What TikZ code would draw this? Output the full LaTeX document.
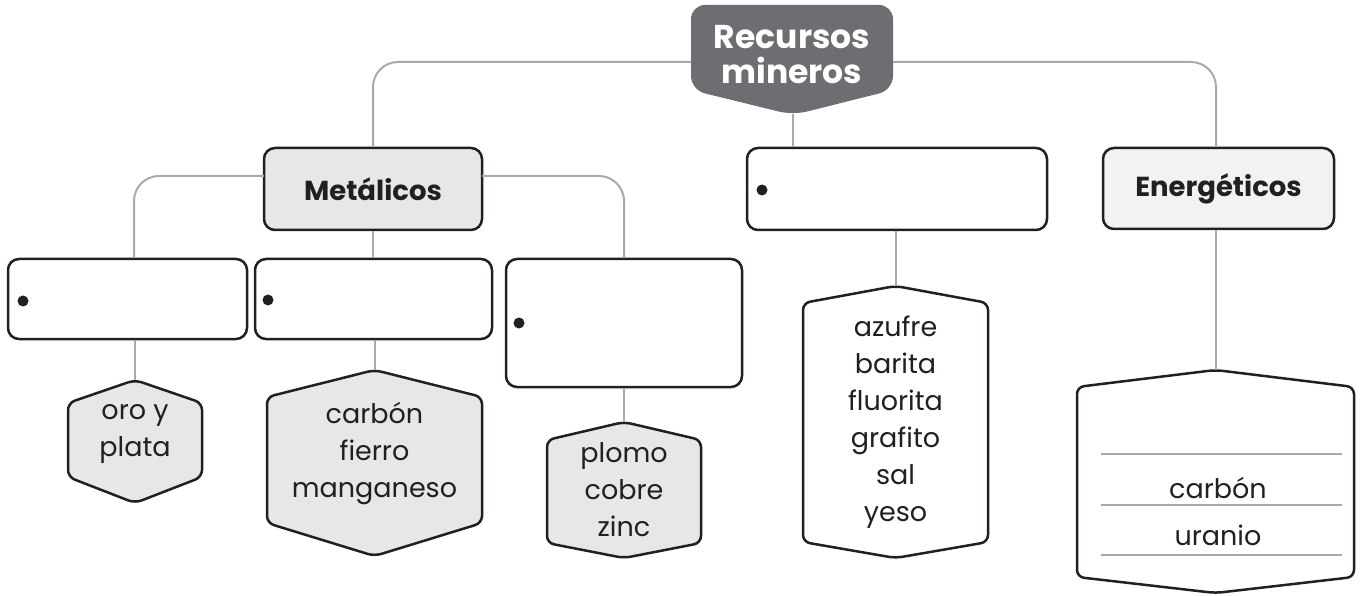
\documentclass[tikz,border=0pt]{standalone}
\usepackage{fontspec}
\setmainfont{Poppins}
\definecolor{ink}{HTML}{231F20}
\definecolor{conngray}{HTML}{A7A9AC}
\definecolor{topfill}{HTML}{6D6E71}
\definecolor{lightfill}{HTML}{E6E7E8}
\definecolor{lighterfill}{HTML}{F1F2F2}
\tikzset{
  boxnode/.style={draw=ink, line width=2.5pt, rounded corners=11pt, rectangle, inner sep=0pt, fill=white},
  headtext/.style={font=\bfseries\fontsize{27.5}{34}\selectfont, text=ink},
  itemtext/.style={font=\fontsize{27}{37}\selectfont, text=ink, align=center, inner sep=0pt},
  conn/.style={draw=conngray, line width=2pt, rounded corners=25pt},
  hexstyle/.style={draw=ink, line width=2.5pt, rounded corners=7pt},
  bulletdot/.style={fill=ink},
  rowline/.style={draw=conngray, line width=2pt}
}
\newcommand\hexshape[8]{%
  \path[hexstyle, fill=#8] (#2,#4) -- (#2+#3,#5) -- (#2+#3,#6) -- (#2,#7) -- (#2-#3,#6) -- (#2-#3,#5) -- cycle;
  \coordinate (#1) at (#2,#4);}
\begin{document}
\begin{tikzpicture}[x=1pt,y=-1pt]
\useasboundingbox (0,0) rectangle (1361,596);
% top node
\fill[topfill, rounded corners=14pt] (793,115) -- (691,90) -- (691,5) -- (893,5) -- (893,90) -- cycle;
\node[font=\bfseries\fontsize{33}{35}\selectfont, text=white, align=center] (rec) at (792,55) {Recursos\\mineros};
\coordinate (recL) at (691,62);
\coordinate (recR) at (893,62);
\coordinate (recB) at (793,114);
% second level
\node[boxnode, fill=lightfill, minimum width=218pt, minimum height=82pt] (met) at (373,189) {};
\node[headtext] (metT) at (met.center) {Metálicos};
\node[boxnode, minimum width=300pt, minimum height=82pt] (mid) at (897,189) {};
\coordinate (bulM) at (762,190);
\node[boxnode, fill=lighterfill, minimum width=231pt, minimum height=81pt] (ene) at (1218.5,188.5) {};
\node[headtext] (eneT) at (ene.center) {Energéticos};
% third level boxes
\node[boxnode, minimum width=239pt, minimum height=80pt] (bA) at (127.5,299) {};
\coordinate (bulA) at (23,301);
\node[boxnode, minimum width=237pt, minimum height=80pt] (bB) at (373.5,299) {};
\coordinate (bulB) at (268,300);
\node[boxnode, minimum width=236pt, minimum height=128pt] (bC) at (624,323) {};
\coordinate (bulC) at (519,323);
\foreach \b in {bulM,bulA,bulB,bulC} {\fill[bulletdot] (\b) circle (5.5pt);}
% hexagons
\hexshape{hA}{135}{67}{380}{403}{477}{503}{lightfill}
\node[itemtext] (tA) at (135,434) {oro y\\plata};
\hexshape{hB}{374.5}{107.5}{370}{397}{523}{556}{lightfill}
\node[itemtext] (tB) at (374.5,453) {carbón\\fierro\\manganeso};
\hexshape{hC}{624}{77}{422}{440}{543}{558}{lightfill}
\node[itemtext] (tC) at (624,490) {plomo\\cobre\\zinc};
\hexshape{hD}{895.5}{92.5}{286}{303}{542}{558}{white}
\node[itemtext] (tD) at (895.5,422) {azufre\\barita\\fluorita\\grafito\\sal\\yeso};
\hexshape{hE}{1215.5}{138.5}{370}{387}{577}{593}{white}
\draw[rowline] (1101,454) -- (1342,454);
\draw[rowline] (1101,505) -- (1342,505);
\draw[rowline] (1101,555) -- (1342,555);
\node[itemtext] (tE1) at (1218,488) {carbón};
\node[itemtext] (tE2) at (1218,535) {uranio};
% connectors
\coordinate (xM) at (373,0);
\coordinate (xE) at (1216,0);
\draw[conn] (recL) -| (met.north -| xM);
\draw[conn] (recR) -| (ene.north -| xE);
\draw[conn] (recB) -- (recB |- mid.north);
\coordinate (metL) at (264,176);
\coordinate (metR) at (482,176);
\coordinate (xA) at (134,0);
\coordinate (xC) at (624,0);
\draw[conn] (metL) -| (bA.north -| xA);
\draw[conn] (metR) -| (bC.north -| xC);
\draw[conn] (met.south -| xM) -- (bB.north -| xM);
\draw[conn] (bA.south -| hA) -- (hA);
\draw[conn] (bB.south -| hB) -- (hB);
\draw[conn] (bC.south -| hC) -- (hC);
\draw[conn] (mid.south -| hD) -- (hD);
\draw[conn] (ene.south -| hE) -- (hE);
\end{tikzpicture}
\end{document}
